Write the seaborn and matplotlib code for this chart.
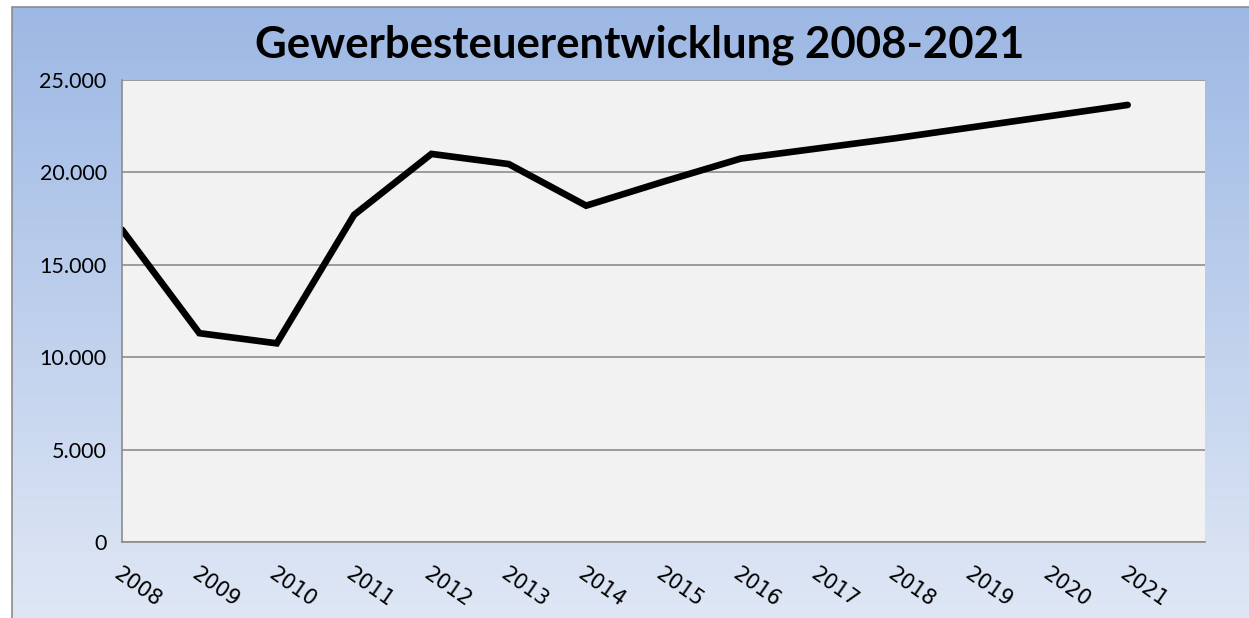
import matplotlib
matplotlib.use("Agg")
import matplotlib.pyplot as plt
import numpy as np
import pandas as pd
import seaborn as sns
from matplotlib.colors import LinearSegmentedColormap
from matplotlib.patches import Rectangle
from matplotlib.ticker import FuncFormatter

years = [2008, 2009, 2010, 2011, 2012, 2013, 2014,
         2015, 2016, 2017, 2018, 2019, 2020, 2021]
revenue = [16900, 11300, 10750, 17700, 21000, 20450, 18200,
           19500, 20750, 21300, 21850, 22450, 23050, 23650]
y_ticks = [0, 5000, 10000, 15000, 20000, 25000]
title = "Gewerbesteuerentwicklung 2008-2021"

df = pd.DataFrame({"Jahr": years, "Gewerbesteuer": revenue})

sns.set_theme(style="white")
plt.rcParams["font.family"] = ["Lato", "DejaVu Sans"]

W, H = 1249, 618
fig = plt.figure(figsize=(W / 100, H / 100), dpi=100)
fig.patch.set_facecolor("white")

# blue gradient chart frame
bg = fig.add_axes([12 / W, 0, 1 - 12 / W, 1 - 7 / H])
grad = LinearSegmentedColormap.from_list("bg", ["#9db8e4", "#dfe7f5"])
bg.imshow(np.linspace(0, 1, 256).reshape(-1, 1), aspect="auto", cmap=grad,
          extent=[0, 1, 0, 1])
bg.set_axis_off()
fig.patches.append(Rectangle((12 / W, -0.01), 1.0, 1 - 7 / H + 0.01,
                             transform=fig.transFigure, fill=False,
                             edgecolor="#8c8c8c", linewidth=1.2))

left, right, top, bottom = 122, 1205, 80, 542
ax = fig.add_axes([left / W, 1 - bottom / H, (right - left) / W, (bottom - top) / H])
ax.set_facecolor("#f2f2f2")

sns.lineplot(data=df, x="Jahr", y="Gewerbesteuer", ax=ax, color="black",
             linewidth=4.8, solid_capstyle="round", solid_joinstyle="miter")

ax.set_xlim(2008, 2022)
ax.set_ylim(0, 25000)
ax.set_yticks(y_ticks)
ax.yaxis.set_major_formatter(FuncFormatter(lambda v, p: f"{int(v):,}".replace(",", ".")))
ax.set_xticks(years + [2022])
ax.set_xticklabels([str(y) for y in years] + [""])
ax.grid(axis="y", color="#8c8c8c", linewidth=1.2)
ax.set_axisbelow(True)

for s in ["top", "right"]:
    ax.spines[s].set_visible(False)
for s in ["left", "bottom"]:
    ax.spines[s].set_color("#8c8c8c")
    ax.spines[s].set_linewidth(1.2)

ax.tick_params(axis="both", which="major", direction="out", length=7,
               width=1.2, color="#8c8c8c")
ax.tick_params(axis="y", labelsize=15.5, pad=4, labelcolor="black")
ax.tick_params(axis="x", labelsize=15, pad=9, labelcolor="black")
for lbl in ax.get_xticklabels():
    lbl.set_rotation(-35)
    lbl.set_ha("left")
    lbl.set_va("top")
    lbl.set_rotation_mode("anchor")
    lbl.set_family(["DejaVu Sans"])
    lbl.set_x(lbl.get_position()[0])

ax.set_xlabel("")
ax.set_ylabel("")

fig.text(640 / W, 1 - 45 / H, title, ha="center", va="center",
         fontsize=31.5, fontweight="bold", color="black")

fig.savefig("out.png", dpi=100)
